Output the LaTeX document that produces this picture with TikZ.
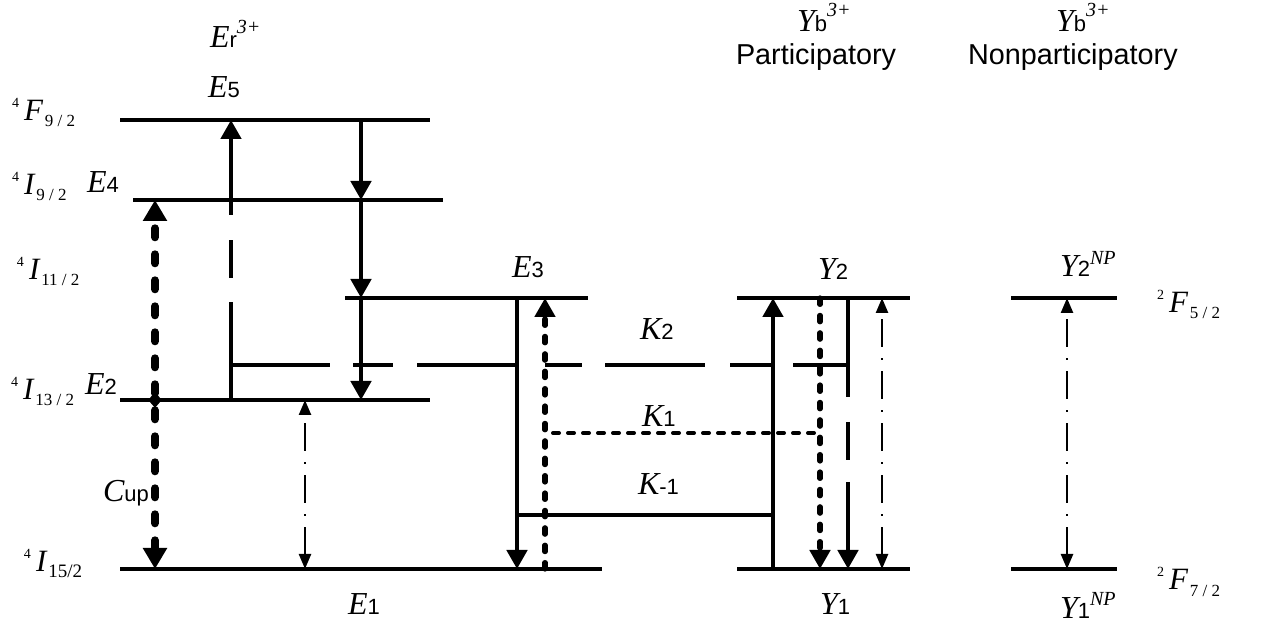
\documentclass[tikz,border=0pt]{standalone}
\usepackage{fontspec}
\setmainfont{Liberation Serif}
\setsansfont{Liberation Sans}
\usetikzlibrary{arrows.meta,shapes.geometric}

% italic serif symbol with an upright sans index, e.g. E5, K-1
\newcommand\sym[2]{{\fontsize{16}{16}\selectfont\itshape #1}{\fontsize{11}{11}\selectfont\sffamily #2}}
% raised italic charge / tag
\newcommand\chg[2]{\raisebox{#1}{\fontsize{10}{10}\selectfont\itshape #2}}
% spectroscopic term symbol  ^{2S+1}L_{J}
\newcommand\term[4][8.5]{\raisebox{6.5pt}{\fontsize{7}{7}\selectfont #2}\hspace{2.5pt}{\fontsize{15.5}{15.5}\selectfont\itshape #3}\hspace{1pt}\raisebox{-3pt}{\fontsize{#1}{#1}\selectfont #4}}

\begin{document}
\begin{tikzpicture}[x=0.5pt,y=-0.5pt,
  lbl/.style={anchor=base west,inner sep=0pt,outer sep=0pt},
  level/.style={line width=1.6pt},
  bigtip/.style={-{Triangle[width=10pt,length=9.5pt]}},
  solidarr/.style={line width=2.3pt,bigtip},
  dotarr/.style={line width=2.6pt,line cap=round,dash pattern=on 3.2pt off 5.5pt,bigtip},
  dotline/.style={line width=2pt,line cap=round,dash pattern=on 3pt off 4.5pt},
  ddarr/.style={line width=1.2pt,dash pattern=on 14pt off 5.5pt on 1pt off 5.5pt,
     {Triangle[width=6pt,length=7.5pt]}-{Triangle[width=6pt,length=7.5pt]}},
  cuparr/.style={line width=4pt,line cap=round,dash pattern=on 4.5pt off 8.5pt,
     {Triangle[width=11.5pt,length=10.5pt]}-{Triangle[width=11.5pt,length=10.5pt]}}]

\fill[white] (0,0) rectangle (1269,624);
\useasboundingbox (0,0) rectangle (1269,624);

% ---------- energy levels ----------
\coordinate (E5a) at (120,120); \coordinate (E5b) at (430,120);
\coordinate (E4a) at (133,200); \coordinate (E4b) at (443,200);
\coordinate (E3a) at (345,298); \coordinate (E3b) at (588,298);
\coordinate (E2a) at (120,400); \coordinate (E2b) at (430,400);
\coordinate (E1a) at (120,569); \coordinate (E1b) at (602,569);
\coordinate (Y2a) at (737,298); \coordinate (Y2b) at (910,298);
\coordinate (Y1a) at (737,569); \coordinate (Y1b) at (910,569);
\coordinate (N2a) at (1011,298); \coordinate (N2b) at (1117,298);
\coordinate (N1a) at (1011,569); \coordinate (N1b) at (1117,569);

\foreach \l in {E5,E4,E3,E2,E1,Y2,Y1,N2,N1}
  \draw[level] (\l a) -- (\l b);

% ---------- rows of the transfer paths ----------
\coordinate (rK2) at (0,365);
\coordinate (rK1) at (0,433);
\coordinate (rKm) at (0,515);

% ---------- columns of the transitions ----------
\coordinate (cCup) at (155,0);
\coordinate (cUp5) at (231,0);
\coordinate (cDD) at (305,0);
\coordinate (cDn) at (361,0);
\coordinate (cE3s) at (517,0);
\coordinate (cE3d) at (545,0);
\coordinate (cYs) at (773,0);
\coordinate (cYd) at (820,0);
\coordinate (cYl) at (848,0);
\coordinate (cYdd) at (882,0);
\coordinate (cN) at (1067,0);

% up-conversion C_up
\draw[cuparr] (cCup |- E1a) -- (cCup |- E4a);
\node[diamond,fill,inner sep=0pt,minimum width=7pt,minimum height=8pt] (dCup) at (cCup |- E2a) {};

% E2 -> E5 excitation (long-dashed lower part)
\draw[line width=2.3pt,dash pattern=on 49pt off 12pt on 19pt off 12.5pt on 200pt,bigtip]
  (cUp5 |- E2a) -- (cUp5 |- E5a);

% cascade E5 -> E4 -> E3 -> E2
\draw[solidarr] (cDn |- E5a) -- (cDn |- E4a);
\draw[solidarr] (cDn |- E4a) -- (cDn |- E3a);
\draw[solidarr] (cDn |- E3a) -- (cDn |- E2a);

% E1 <-> E2 radiative
\draw[ddarr] (cDD |- E1a) -- (cDD |- E2a);

% K2 long-dashed transfer line
\draw[line width=2pt,dash pattern=on 49.5pt off 11.5pt on 20pt off 12pt on 50pt off 14pt on 18.5pt off 11.5pt on 50pt off 12.5pt on 21.5pt off 10pt on 60pt]
  (cUp5 |- rK2) -- (cYl |- rK2);

% E3 -> E1 and E1 -> E3
\draw[solidarr] (cE3s |- E3a) -- (cE3s |- E1a);
\draw[dotarr] (cE3d |- E1a) -- (cE3d |- E3a);

% K1 and K-1 transfer lines
\draw[dotline] ([xshift=4pt]cE3d |- rK1) -- ([xshift=-2.5pt]cYd |- rK1);
\draw[line width=2pt] (cE3s |- rKm) -- (cYs |- rKm);

% Yb participatory transitions
\draw[solidarr] (cYs |- Y1a) -- (cYs |- Y2a);
\draw[dotarr] (cYd |- Y2a) -- (cYd |- Y1a);
\draw[line width=2.3pt,dash pattern=on 49.5pt off 12.5pt on 19pt off 11pt on 200pt,bigtip]
  (cYl |- Y2a) -- (cYl |- Y1a);
\draw[ddarr] (cYdd |- Y1a) -- (cYdd |- Y2a);

% Yb nonparticipatory
\draw[ddarr] (cN |- N1a) -- (cN |- N2a);

% ---------- labels ----------
\node[lbl] (tF92) at (12,121) {\term{4}{F}{9 / 2}};
\node[lbl] (tI92) at (12,195) {\term{4}{I}{9 / 2}};
\node[lbl] (lE4) at (87,193) {\sym{E}{4}};
\node[lbl] (tI112) at (17,280) {\term{4}{I}{11 / 2}};
\node[lbl] (tI132) at (11,400) {\term{4}{I}{13 / 2}};
\node[lbl] (lE2) at (85,395) {\sym{E}{2}};
\node[lbl] (tI152) at (24,572) {\term[9.5]{4}{I}{15/2}};

\node[lbl] (lEr) at (210,48) {\sym{E}{r}\chg{7pt}{3+}};
\node[lbl] (lE5) at (208,98) {\sym{E}{5}};
\node[lbl] (lE3) at (512,278) {\sym{E}{3}};
\node[lbl] (lE1) at (348,615) {\sym{E}{1}};
\node[lbl] (lCup) at (103,502) {\sym{C}{up}};

\node[lbl] (lK2) at (640,340) {\sym{K}{2}};
\node[lbl] (lK1) at (642,427) {\sym{K}{1}};
\node[lbl] (lKm) at (638,495) {\sym{K}{-1}};

\node[lbl] (lY2) at (818,280) {\sym{Y}{2}};
\node[lbl] (lY1) at (820,615) {\sym{Y}{1}};
\node[lbl] (lYbP) at (797,32) {\sym{Y}{b}\chg{7.5pt}{3+}};
\node[lbl] (lPart) at (736,65) {\fontsize{14.4}{15}\selectfont\sffamily Participatory};
\node[lbl] (lYbN) at (1056,32) {\sym{Y}{b}\chg{7.5pt}{3+}};
\node[lbl] (lNon) at (968,65) {\fontsize{14.4}{15}\selectfont\sffamily Nonparticipatory};

\node[lbl] (lY2N) at (1060,277) {\sym{Y}{2}\chg{6pt}{NP}};
\node[lbl] (lY1N) at (1060,618) {\sym{Y}{1}\chg{6pt}{NP}};
\node[lbl] (tF52) at (1157,313) {\term{2}{F}{5 / 2}};
\node[lbl] (tF72) at (1157,590) {\term{2}{F}{7 / 2}};
\end{tikzpicture}
\end{document}
